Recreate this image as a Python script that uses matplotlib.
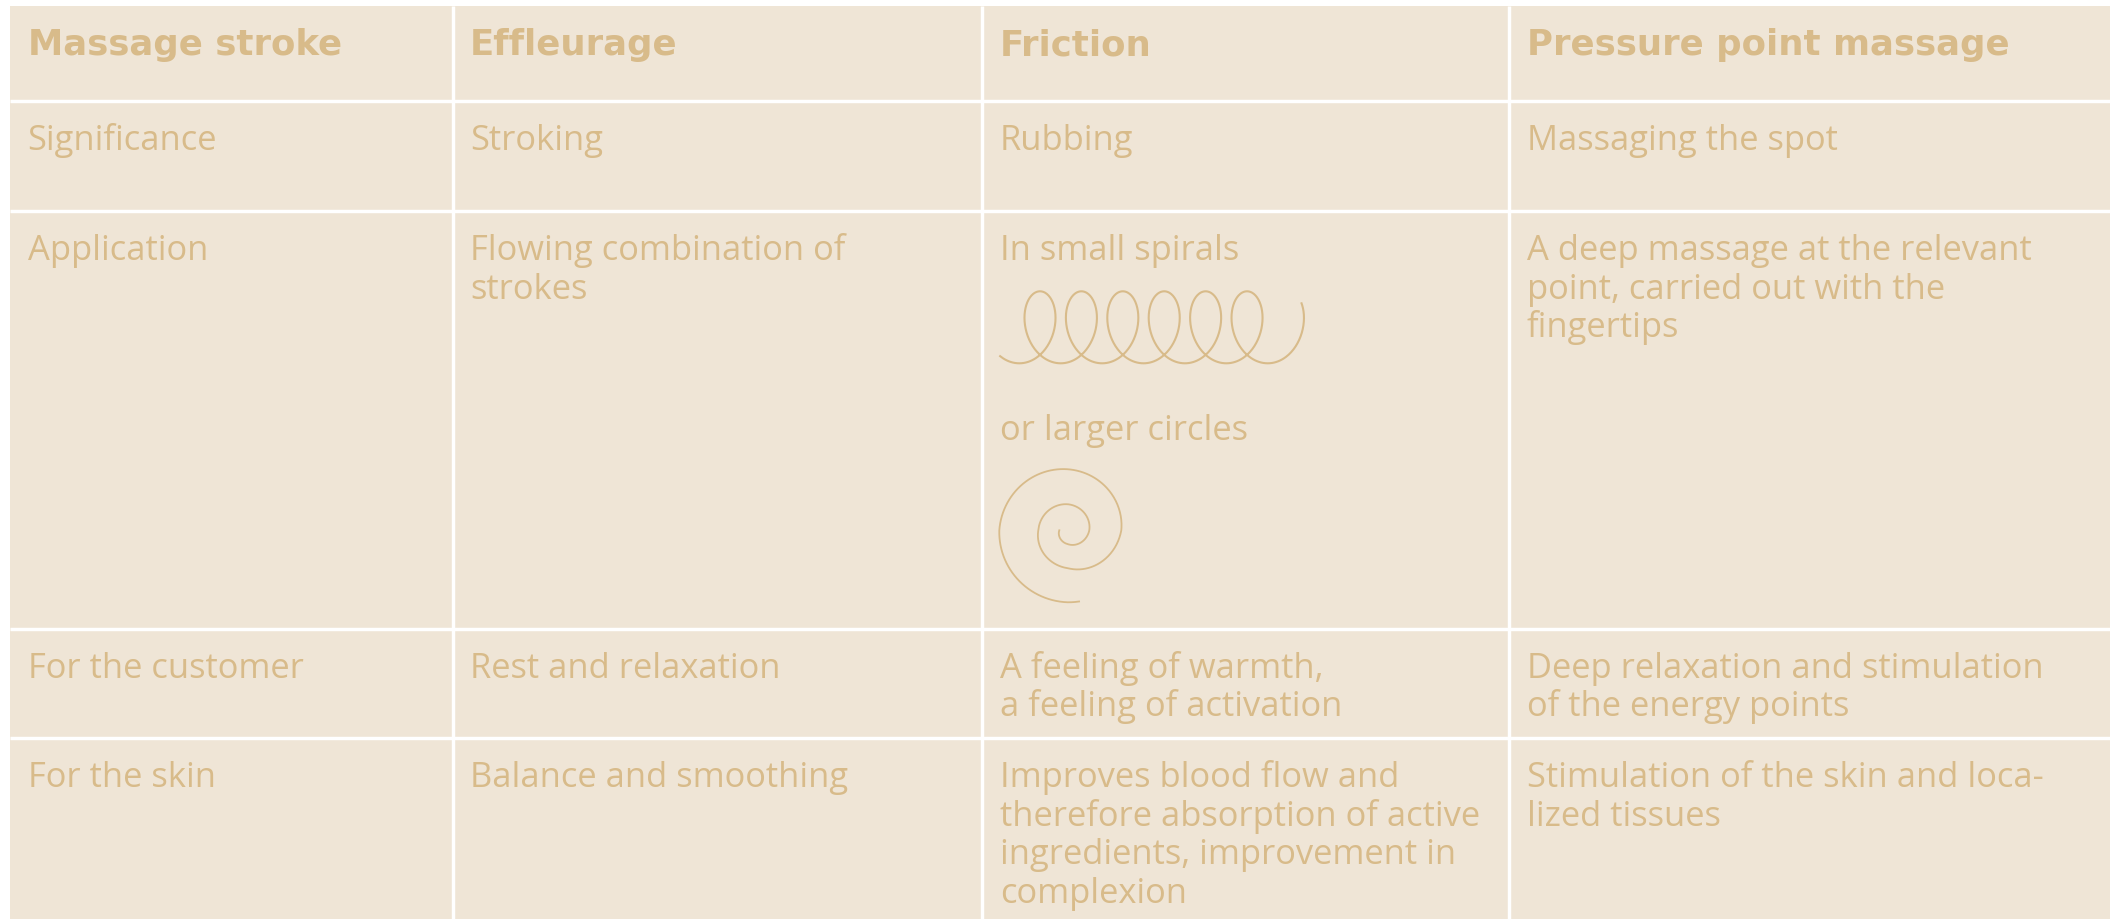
import numpy as np
import matplotlib.pyplot as plt
from matplotlib.patches import Rectangle

# table content
headers = ["Massage stroke", "Effleurage", "Friction", "Pressure point massage"]
row_labels = ["Significance", "Application", "For the customer", "For the skin"]
effleurage = ["Stroking",
              "Flowing combination of\nstrokes",
              "Rest and relaxation",
              "Balance and smoothing"]
friction = ["Rubbing",
            "In small spirals",
            "A feeling of warmth,\na feeling of activation",
            "Improves blood flow and\ntherefore absorption of active\ningredients, improvement in\ncomplexion"]
friction_note = "or larger circles"
pressure = ["Massaging the spot",
            "A deep massage at the relevant\npoint, carried out with the\nfingertips",
            "Deep relaxation and stimulation\nof the energy points",
            "Stimulation of the skin and loca-\nlized tissues"]

W, H = 2112, 920
col_edges = [10, 452.7, 982.3, 1509.3, 2110]
row_edges = [7, 102.3, 212.3, 630, 739.3, H]

bg = '#EFE5D6'
fg = '#D8BB8A'
pad_x = 17.5
base_y = 48
line_h = 38.5
px = 72 / 100  # pixels -> points

fig = plt.figure(figsize=(W / 100, H / 100), dpi=100)
ax = fig.add_axes([0, 0, 1, 1])
ax.set_xlim(0, W)
ax.set_ylim(H, 0)
ax.axis('off')

ax.add_patch(Rectangle((col_edges[0], row_edges[0]), col_edges[-1] - col_edges[0],
                       row_edges[-1] - row_edges[0], fc=bg, ec='none'))
ax.vlines(col_edges[1:-1], row_edges[0], row_edges[-1], color='white', lw=3.4 * px)
ax.hlines(row_edges[1:-1], col_edges[0], col_edges[-1], color='white', lw=3.4 * px)


def put(col, row, text, dy=0, header=False):
    x = col_edges[col] + pad_x
    y = row_edges[row] + base_y + dy
    for i, line in enumerate(text.split('\n')):
        if header:
            ax.text(x, y + i * line_h, line, color=fg, fontsize=25.6, fontweight='bold',
                    family='DejaVu Sans', ha='left', va='baseline')
        else:
            ax.text(x, y + i * line_h, line, color=fg, fontsize=24.8,
                    family='Open Sans', ha='left', va='baseline')


for c, h in enumerate(headers):
    put(c, 0, h, header=True)

for r in range(4):
    put(0, r + 1, row_labels[r])
    put(1, r + 1, effleurage[r])
    put(2, r + 1, friction[r])
    put(3, r + 1, pressure[r])

put(2, 2, friction_note, dy=180)

# small spirals drawing
x0 = col_edges[2] + 37
yc = row_edges[2] + 116
t = np.linspace(-0.64, 12 * np.pi + 2.3, 1200)
ax.plot(x0 + 6.59 * t + 25 * np.sin(t), yc + 36 * np.cos(t), color=fg, lw=1.5)

# larger circle drawing
cx = col_edges[2] + 86
cy = row_edges[2] + 319
th = np.linspace(-0.15, 4.5 * np.pi, 800)
knots = np.arange(10) * np.pi / 2
radii = [72, 69, 61, 53, 38, 30, 26, 21, 14, 9]
r = np.interp(th, knots, radii)
ax.plot(cx - r * np.sin(th), cy + r * np.cos(th), color=fg, lw=1.3)

fig.savefig('out.png', dpi=100, facecolor='white')
